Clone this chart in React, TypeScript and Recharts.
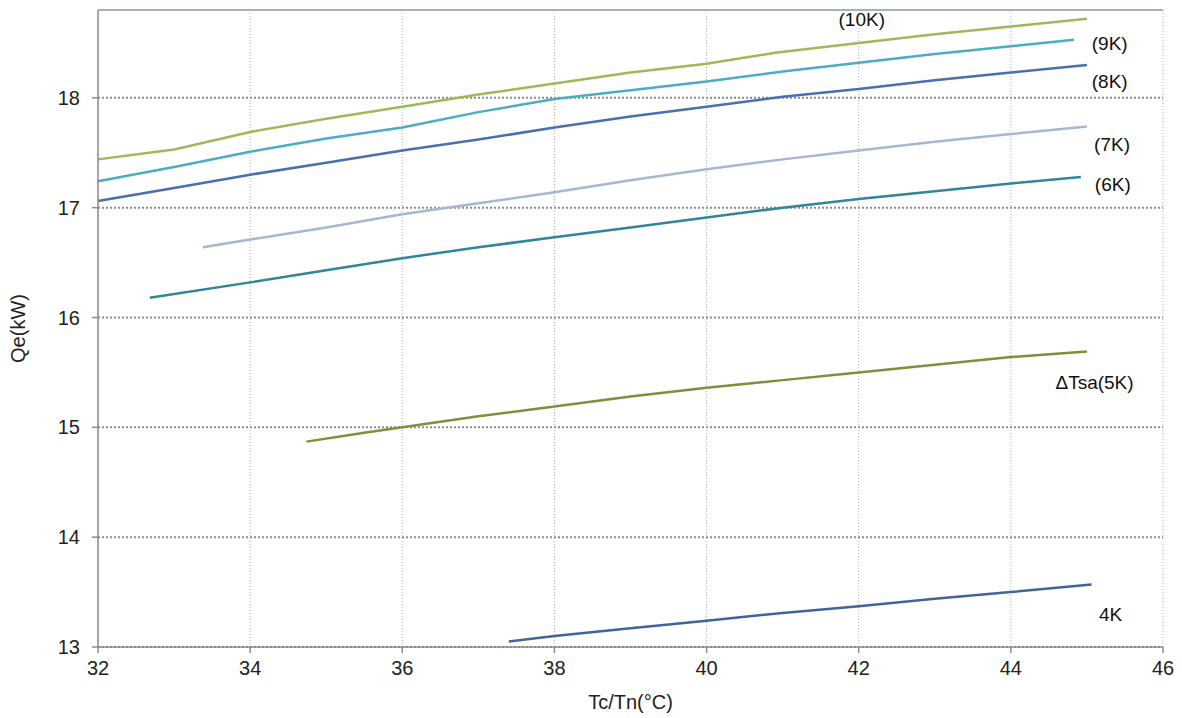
import { LineChart, Line, XAxis, YAxis, CartesianGrid, ReferenceDot } from 'recharts';

// Tc/Tn (°C) and Qe (kW) readings for each superheat curve
const tc10 = [32, 33, 34, 35, 36, 37, 38, 39, 40, 40.9, 42, 43, 44, 45];
const qe10 = [17.44, 17.53, 17.69, 17.81, 17.92, 18.03, 18.13, 18.23, 18.31, 18.41, 18.5, 18.58, 18.65, 18.72];

const tc9 = [32, 33, 34, 35, 36, 37, 38, 39, 40, 41, 42, 43, 44, 44.83];
const qe9 = [17.24, 17.37, 17.51, 17.63, 17.73, 17.87, 17.99, 18.07, 18.15, 18.24, 18.32, 18.4, 18.47, 18.53];

const tc8 = [32, 33, 34, 35, 36, 37, 38, 39, 40, 41, 42, 43, 44, 45];
const qe8 = [17.06, 17.18, 17.3, 17.41, 17.52, 17.62, 17.73, 17.83, 17.92, 18.01, 18.08, 18.16, 18.23, 18.3];

const tc7 = [33.38, 34, 35, 36, 37, 38, 39, 40, 41, 42, 43, 44, 45];
const qe7 = [16.64, 16.71, 16.82, 16.94, 17.04, 17.14, 17.25, 17.35, 17.44, 17.52, 17.6, 17.67, 17.74];

const tc6 = [32.68, 34, 35, 36, 37, 38, 39, 40, 41, 42, 43, 44, 44.92];
const qe6 = [16.18, 16.32, 16.43, 16.54, 16.64, 16.73, 16.82, 16.91, 17.0, 17.08, 17.15, 17.22, 17.28];

const tc5 = [34.74, 35.5, 36, 37, 38, 39, 40, 41, 42, 43, 44, 45];
const qe5 = [14.87, 14.95, 15.0, 15.1, 15.19, 15.28, 15.36, 15.43, 15.5, 15.57, 15.64, 15.69];

const tc4 = [37.4, 38, 39, 40, 41, 42, 43, 44, 45.06];
const qe4 = [13.05, 13.1, 13.17, 13.24, 13.31, 13.37, 13.44, 13.5, 13.57];

const xTicks = [32, 34, 36, 38, 40, 42, 44, 46];
const yTicks = [13, 14, 15, 16, 17, 18];
const yTop = 18.8;

const curveNames = ['(10K)', '(9K)', '(8K)', '(7K)', '(6K)', '\u0394Tsa(5K)', '4K'];
const labelTc = [42.04, 45.3, 45.3, 45.33, 45.34, 45.1, 45.31];
const labelQe = [18.72, 18.5, 18.15, 17.58, 17.21, 15.41, 13.3];

const toPoints = (xs: number[], ys: number[]) => xs.map((x, i) => ({ x, y: ys[i] }));

const series = [
  { name: '10K', data: toPoints(tc10, qe10), color: '#9BBB59' },
  { name: '9K', data: toPoints(tc9, qe9), color: '#4BACC6' },
  { name: '8K', data: toPoints(tc8, qe8), color: '#4A6FB0' },
  { name: '7K', data: toPoints(tc7, qe7), color: '#A7B7D1' },
  { name: '6K', data: toPoints(tc6, qe6), color: '#31859C' },
  { name: '5K', data: toPoints(tc5, qe5), color: '#77933C' },
  { name: '4K', data: toPoints(tc4, qe4), color: '#41659A' },
];

const font = '"Liberation Sans", Arial, sans-serif';
const margin = { top: 10, right: 19, bottom: 31, left: 38 };
const yAxisWidth = 60;

export default function App() {
  return (
    <div style={{ position: 'absolute', left: 0, top: 0, width: 1182, height: 718, background: '#fff' }}>
      <LineChart width={1182} height={718} margin={margin}>
        <CartesianGrid vertical={false} stroke="#8c8c8c" strokeWidth={2} strokeDasharray="2 2" horizontalValues={yTicks} />
        <CartesianGrid horizontal={false} stroke="#b0b0b0" strokeWidth={1} strokeDasharray="1 2" verticalValues={xTicks} />
        <XAxis
          dataKey="x"
          type="number"
          domain={[32, 46]}
          ticks={xTicks}
          allowDuplicatedCategory={false}
          height={40}
          stroke="#8c8c8c"
          strokeWidth={1.5}
          tickSize={6}
          tickMargin={8}
          tick={{ fill: '#222', fontSize: 20, fontFamily: font }}
          label={{ value: 'Tc/Tn(\u00B0C)', position: 'insideBottom', offset: -22, fill: '#222', fontSize: 20, fontFamily: font }}
        />
        <YAxis
          type="number"
          domain={[13, yTop]}
          ticks={yTicks}
          width={yAxisWidth}
          stroke="#8c8c8c"
          strokeWidth={1.5}
          tickSize={6}
          tickMargin={12}
          tick={{ fill: '#222', fontSize: 20, fontFamily: font }}
          label={{ value: 'Qe(kW)', angle: -90, position: 'insideLeft', offset: -20, fill: '#222', fontSize: 20, fontFamily: font, style: { textAnchor: 'middle' } }}
        />
        {series.map((s) => (
          <Line
            key={s.name}
            data={s.data}
            dataKey="y"
            type="linear"
            stroke={s.color}
            strokeWidth={2.5}
            dot={false}
            activeDot={false}
            isAnimationActive={false}
          />
        ))}
        {curveNames.map((n, i) => (
          <ReferenceDot
            key={n}
            x={labelTc[i]}
            y={labelQe[i]}
            r={0}
            ifOverflow="visible"
            label={{ value: n, position: 'center', fill: '#111', fontSize: 19, fontFamily: font }}
          />
        ))}
      </LineChart>
      {/* plot-area top frame */}
      <div
        style={{
          position: 'absolute',
          left: margin.left + yAxisWidth,
          top: margin.top - 1,
          width: 1182 - margin.left - yAxisWidth - margin.right,
          height: 0,
          borderTop: '2px solid #a3b1c0',
          pointerEvents: 'none',
        }}
      />
    </div>
  );
}
